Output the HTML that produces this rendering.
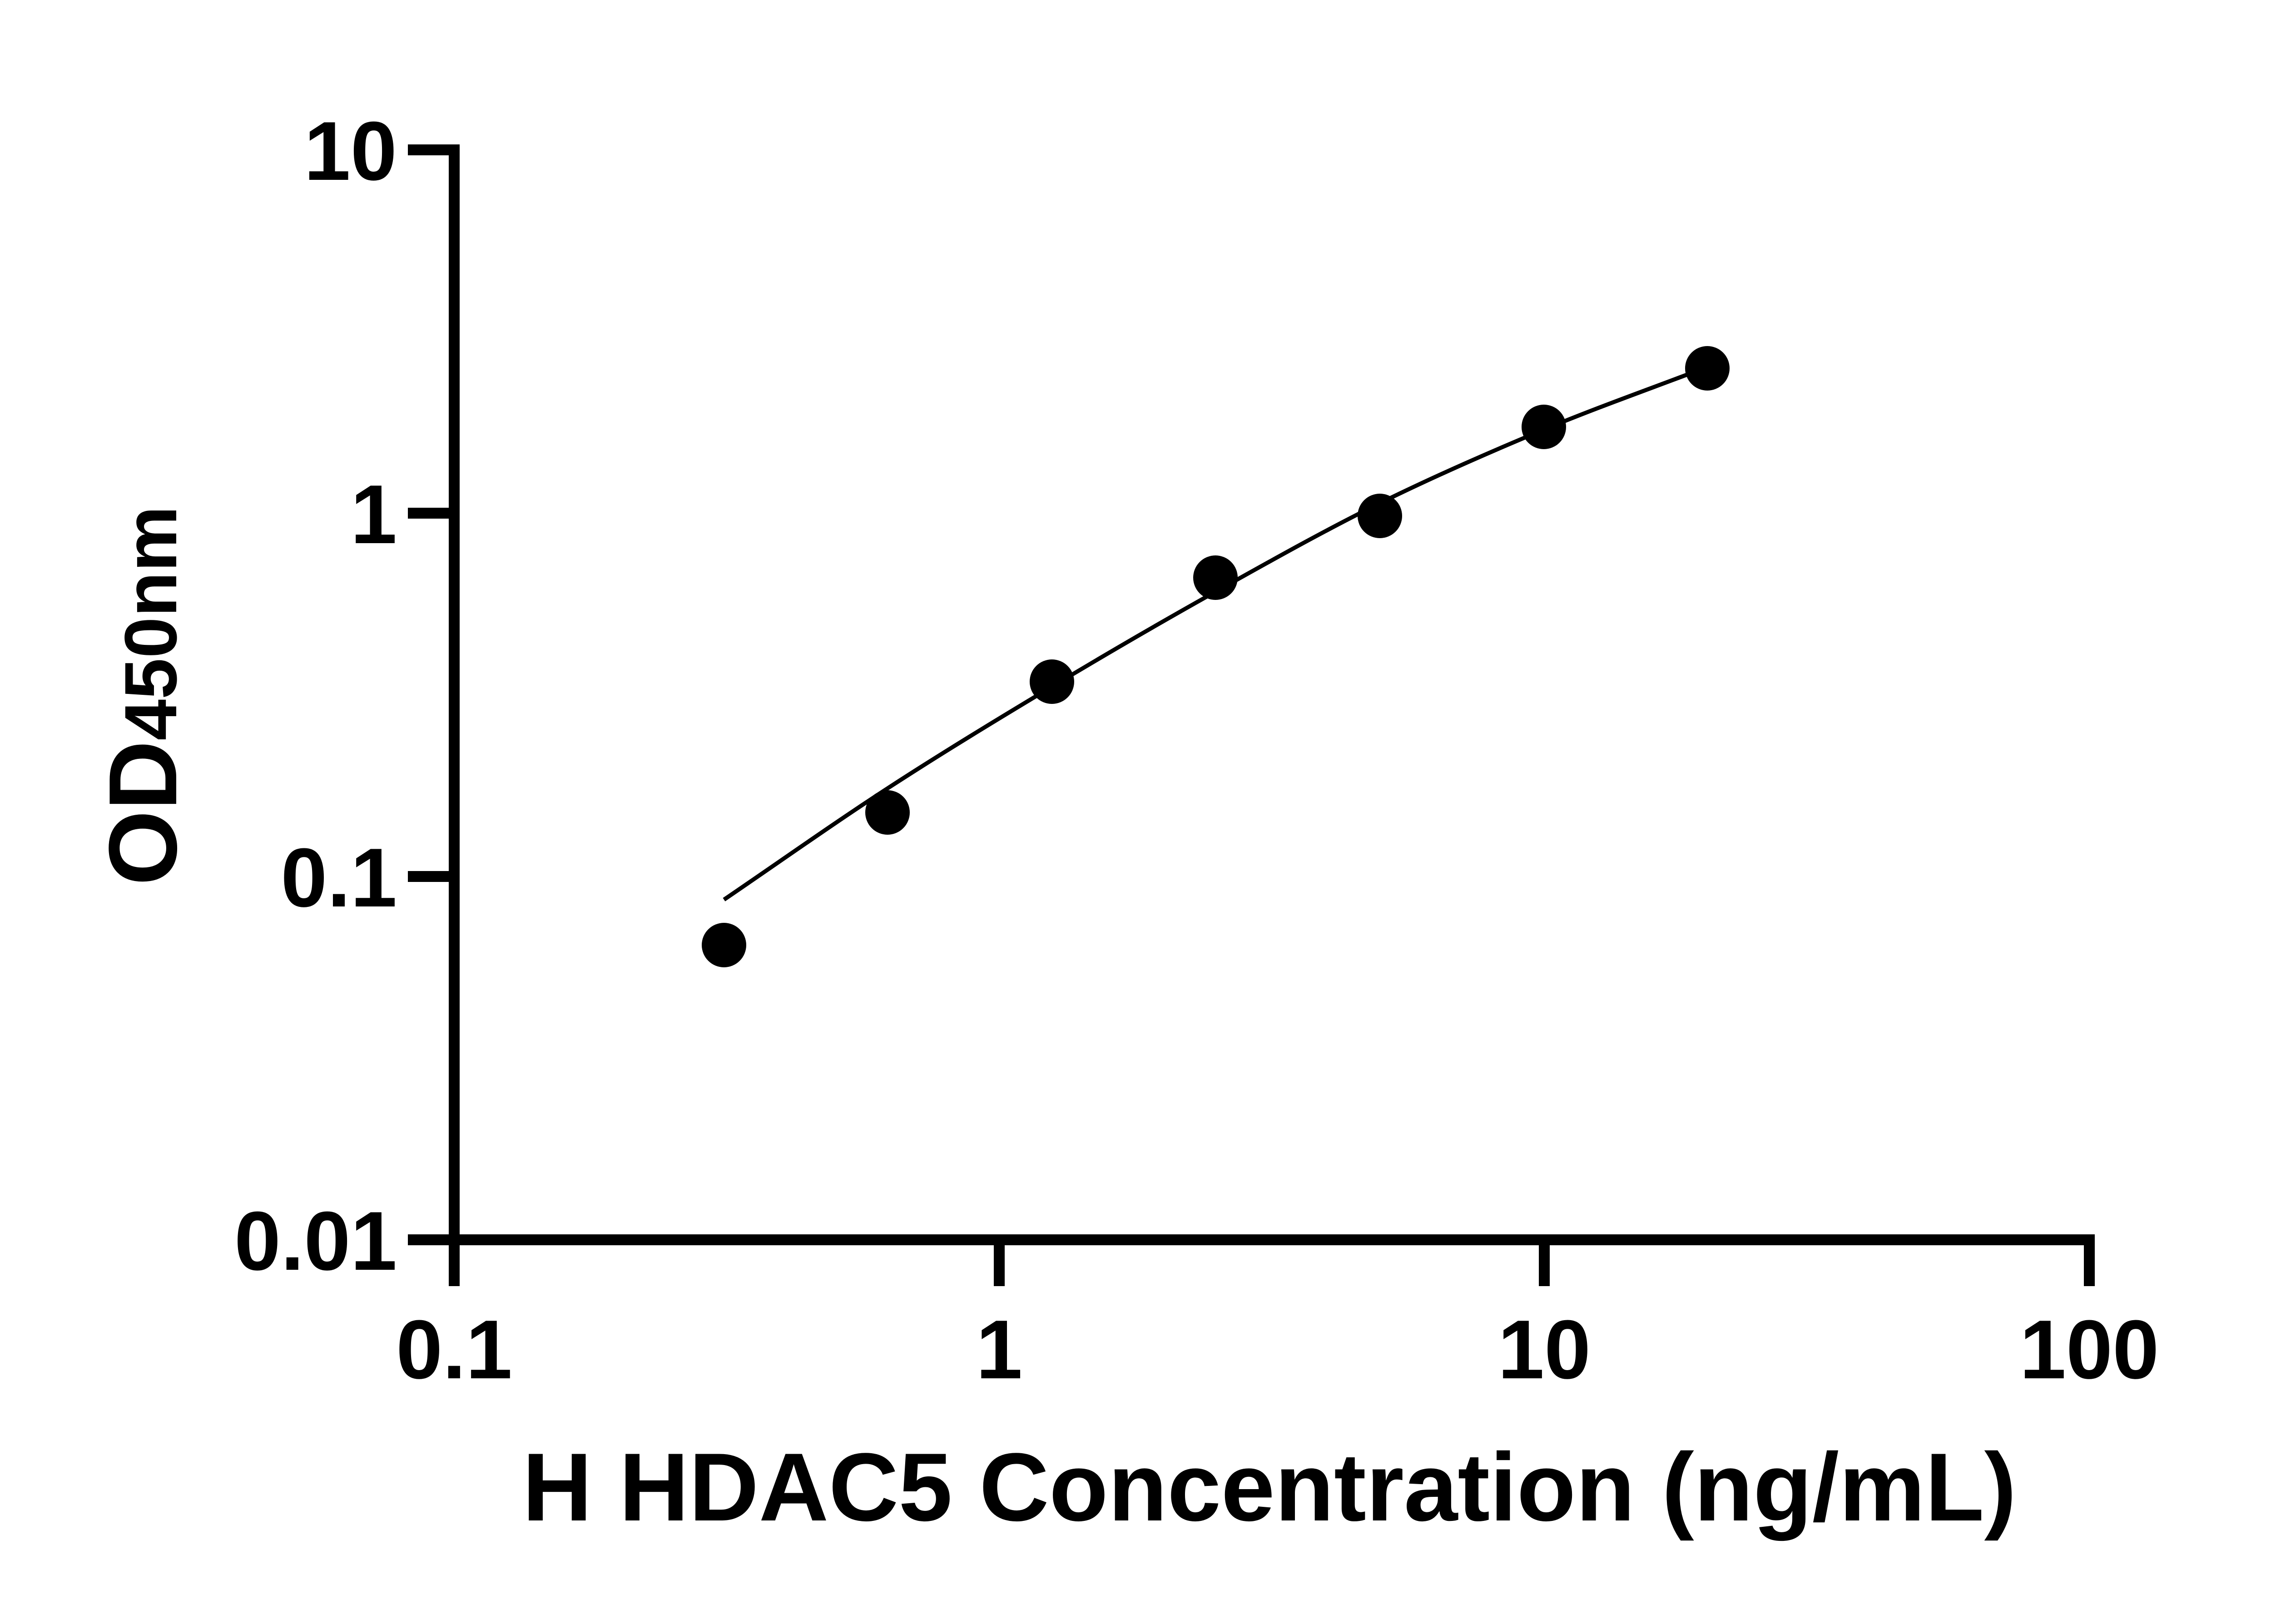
<!DOCTYPE html>
<html>
<head>
<meta charset="utf-8">
<style>
  html, body { margin: 0; padding: 0; background: #ffffff; }
  svg { display: block; }
  text { font-family: "Liberation Sans", Arial, sans-serif; font-weight: bold; fill: #000; }
</style>
</head>
<body>
<svg width="5170" height="3576" viewBox="0 0 5170 3576" xmlns="http://www.w3.org/2000/svg">
  <rect x="0" y="0" width="5170" height="3576" fill="#ffffff"/>

  <!-- Y axis -->
  <rect x="988" y="318" width="24" height="2424" fill="#000"/>
  <!-- Y ticks -->
  <rect x="898" y="318" width="114" height="24" fill="#000"/>
  <rect x="898" y="1118" width="114" height="24" fill="#000"/>
  <rect x="898" y="1918" width="114" height="24" fill="#000"/>
  <rect x="898" y="2718" width="114" height="24" fill="#000"/>

  <!-- X axis -->
  <rect x="898" y="2718" width="3714" height="24" fill="#000"/>
  <!-- X ticks -->
  <rect x="988" y="2718" width="24" height="114" fill="#000"/>
  <rect x="2188" y="2718" width="24" height="114" fill="#000"/>
  <rect x="3388" y="2718" width="24" height="114" fill="#000"/>
  <rect x="4588" y="2718" width="24" height="114" fill="#000"/>

  <!-- Y tick labels -->
  <text x="874" y="396" font-size="184" text-anchor="end">10</text>
  <text x="874" y="1196" font-size="184" text-anchor="end">1</text>
  <text x="874" y="1996" font-size="184" text-anchor="end">0.1</text>
  <text x="874" y="2796" font-size="184" text-anchor="end">0.01</text>

  <!-- X tick labels -->
  <text x="1000" y="3035" font-size="184" text-anchor="middle">0.1</text>
  <text x="2200" y="3035" font-size="184" text-anchor="middle">1</text>
  <text x="3400" y="3035" font-size="184" text-anchor="middle">10</text>
  <text x="4600" y="3035" font-size="184" text-anchor="middle">100</text>

  <!-- X axis title -->
  <text x="1150" y="3348" font-size="213">H HDAC5 Concentration (ng/mL)</text>

  <!-- Y axis title -->
  <text transform="translate(388,1950) rotate(-90)"><tspan font-size="213">OD</tspan><tspan font-size="163">450nm</tspan></text>

  <!-- Fitted curve -->
  <path d="M1594,1981 C1714,1899.3 1833.7,1814.2 1954,1736 C2074.3,1657.8 2195.7,1584.2 2316,1512 C2436.3,1439.8 2555.7,1370.3 2676,1303 C2796.3,1235.7 2917.5,1167.5 3038,1108 C3158.5,1048.5 3278.8,996 3399,946 C3519.2,896 3639,854 3759,808"
        fill="none" stroke="#000" stroke-width="9" stroke-linecap="butt"/>

  <!-- Data points -->
  <circle cx="1594" cy="2081" r="49" fill="#000"/>
  <circle cx="1954" cy="1789" r="49" fill="#000"/>
  <circle cx="2316" cy="1501" r="49" fill="#000"/>
  <circle cx="2676" cy="1272" r="49" fill="#000"/>
  <circle cx="3038" cy="1136" r="49" fill="#000"/>
  <circle cx="3399" cy="940" r="49" fill="#000"/>
  <circle cx="3759" cy="811" r="49" fill="#000"/>
</svg>
</body>
</html>
